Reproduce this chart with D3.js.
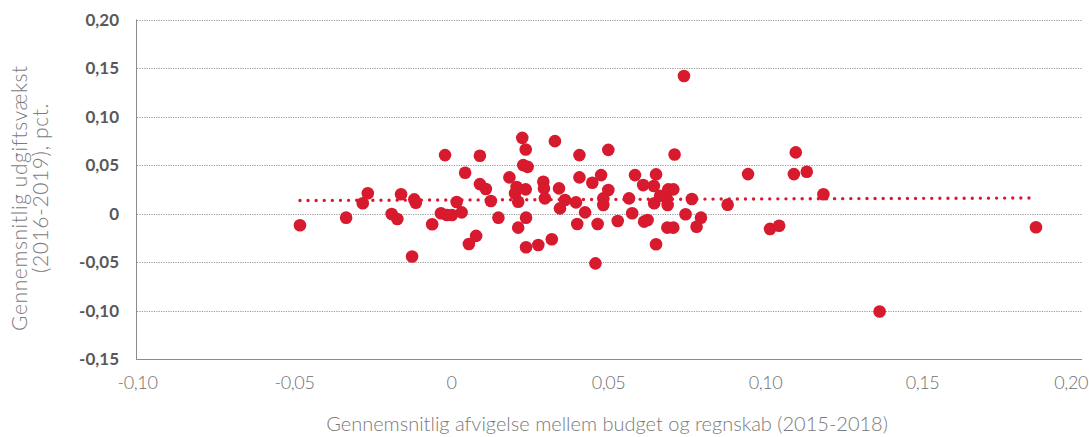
<!DOCTYPE html>
<html><head><meta charset="utf-8">
<script src="https://cdn.jsdelivr.net/npm/d3@7"></script>
<style>
html,body{margin:0;padding:0;background:#fff;}
svg{display:block;}
</style></head>
<body>
<svg id="c" width="1089" height="437"></svg>
<script>
// Average deviation budget vs accounts (2015-2018)
const xValues = [-0.0481,-0.0334,-0.0281,-0.0265,-0.0189,-0.0171,-0.0159,-0.0124,-0.0117,-0.0112,
 -0.0060,-0.0032,-0.0019,-0.0013,0.0003,0.0018,0.0034,0.0045,0.0057,0.0080,
 0.0092,0.0092,0.0111,0.0127,0.0151,0.0186,0.0209,0.0204,0.0214,0.0214,
 0.0227,0.0238,0.0230,0.0244,0.0238,0.0239,0.0239,0.0278,0.0294,0.0296,
 0.0299,0.0331,0.0344,0.0363,0.0347,0.0321,0.0398,0.0409,0.0409,0.0402,
 0.0427,0.0450,0.0478,0.0501,0.0485,0.0485,0.0501,0.0467,0.0460,0.0531,
 0.0567,0.0577,0.0586,0.0612,0.0615,0.0626,0.0646,0.0653,0.0647,0.0653,
 0.0666,0.0687,0.0690,0.0692,0.0708,0.0689,0.0708,0.0712,0.0742,0.0747,
 0.0767,0.0796,0.0782,0.0881,0.0946,0.1016,0.1045,0.1098,0.1092,0.1133,
 0.1186,0.1365,0.1863];
// Average expenditure growth (2016-2019)
const yValues = [-0.0121,-0.0043,0.0105,0.0208,-0.0005,-0.0057,0.0198,-0.0444,0.0146,0.0111,
 -0.0111,0.0002,0.0602,-0.0015,-0.0015,0.0118,0.0012,0.0420,-0.0314,-0.0231,
 0.0303,0.0595,0.0252,0.0129,-0.0043,0.0372,0.0273,0.0208,0.0121,-0.0146,
 0.0780,0.0660,0.0499,0.0481,0.0249,-0.0043,-0.0348,-0.0324,0.0327,0.0259,
 0.0156,0.0746,0.0259,0.0139,0.0053,-0.0265,0.0115,0.0602,0.0372,-0.0108,
 0.0012,0.0317,0.0396,0.0242,0.0156,0.0087,0.0656,-0.0108,-0.0514,-0.0077,
 0.0156,0.0002,0.0396,0.0293,-0.0084,-0.0067,0.0283,0.0403,0.0105,-0.0317,
 0.0183,0.0156,0.0087,0.0249,0.0249,-0.0146,-0.0146,0.0609,0.1418,-0.0008,
 0.0149,-0.0043,-0.0136,0.0091,0.0406,-0.0159,-0.0126,0.0630,0.0406,0.0430,
 0.0198,-0.1010,-0.0142];
// Trend line (linear) endpoints
const trendX = [-0.0481, 0.1863];
const trendY = [0.0134, 0.0160];

const xTicks = [-0.10,-0.05,0,0.05,0.10,0.15,0.20];
const xTickLabels = ["-0,10","-0,05","0","0,05","0,10","0,15","0,20"];
const yTicks = [0.20,0.15,0.10,0.05,0,-0.05,-0.10,-0.15];
const yTickLabels = ["0,20","0,15","0,10","0,05","0","-0,05","-0,10","-0,15"];

const xTitle = "Gennemsnitlig afvigelse mellem budget og regnskab (2015-2018)";
const yTitle = ["Gennemsnitlig udgiftsvækst", "(2016-2019), pct."];

const RED = "#d71a2e";
const FONT = "Lato, 'Open Sans', sans-serif";
const svg = d3.select("#c");
const x = d3.scaleLinear().domain([-0.10, 0.20]).range([137, 1079]);
const y = d3.scaleLinear().domain([-0.15, 0.20]).range([359, 19.5]);
const plotRight = 1082;

// gridlines
svg.append("g").selectAll("line").data(yTicks.filter(d => d > -0.15)).join("line")
  .attr("x1", 137).attr("x2", plotRight)
  .attr("y1", d => Math.round(y(d)) + 0.5).attr("y2", d => Math.round(y(d)) + 0.5)
  .attr("stroke", "#9a9a9a").attr("stroke-width", 1).attr("stroke-dasharray", "1.2,1.2");

// axes lines
svg.append("line").attr("x1", 136.5).attr("x2", 136.5).attr("y1", y(0.20)).attr("y2", 359.5)
  .attr("stroke", "#8c8c8c").attr("stroke-width", 1);
svg.append("line").attr("x1", 136).attr("x2", plotRight).attr("y1", 359.5).attr("y2", 359.5)
  .attr("stroke", "#8c8c8c").attr("stroke-width", 1);

// y tick labels
const yAxis = d3.axisLeft(y).tickValues(yTicks).tickSize(0).tickPadding(0)
  .tickFormat((d, i) => yTickLabels[i]);
const gy = svg.append("g").attr("transform", "translate(119,0)").call(yAxis);
gy.select(".domain").remove();
gy.selectAll("text").attr("font-family", FONT).attr("font-weight", "bold")
  .attr("font-size", 17).attr("fill", "#595959").attr("dy", "0.35em");

// x tick labels
const xAxis = d3.axisBottom(x).tickValues(xTicks).tickSize(0).tickPadding(0)
  .tickFormat((d, i) => xTickLabels[i]);
const gx = svg.append("g").attr("transform", "translate(0,376)").call(xAxis);
gx.select(".domain").remove();
gx.selectAll("text").attr("font-family", FONT).attr("font-weight", 300)
  .attr("font-size", 18).attr("letter-spacing", "-0.4px").attr("fill", "#6f6f6f").attr("dy", "0.71em");
// keep labels inside the page (as the reference does for the last label)
gx.selectAll(".tick").each(function() {
  const t = d3.select(this).select("text");
  const bb = this.getBBox();
  const m = this.transform.baseVal.consolidate().matrix;
  const right = m.e + bb.x + bb.width;
  if (right > 1088) t.attr("dx", (1088 - right) + "px");
});

// trend line (dotted)
svg.append("line")
  .attr("x1", x(trendX[0])).attr("y1", y(trendY[0]))
  .attr("x2", x(trendX[1])).attr("y2", y(trendY[1]))
  .attr("stroke", RED).attr("stroke-width", 3.4).attr("stroke-linecap", "round")
  .attr("stroke-dasharray", "0,8.1");

// points
const pts = xValues.map((v, i) => ({x: v, y: yValues[i]}));
svg.append("g").selectAll("circle").data(pts).join("circle")
  .attr("cx", d => x(d.x)).attr("cy", d => y(d.y)).attr("r", 6.3)
  .attr("fill", RED);

// axis titles
svg.append("text").attr("x", 607).attr("y", 431).attr("text-anchor", "middle")
  .attr("font-family", FONT).attr("font-weight", 300)
  .attr("font-size", 20).attr("fill", "#7a7a7a").text(xTitle);

const yt = svg.append("text").attr("transform", "rotate(-90)")
  .attr("text-anchor", "middle")
  .attr("font-family", FONT).attr("font-weight", 300)
  .attr("font-size", 21).attr("letter-spacing", "0.6px").attr("fill", "#7a7a7a");
const yCenters = [198, 188];
const yBase = [27, 48];
yt.selectAll("tspan").data(yTitle).join("tspan")
  .attr("x", (d, i) => -yCenters[i]).attr("y", (d, i) => yBase[i]).text(d => d);
</script>
</body></html>
